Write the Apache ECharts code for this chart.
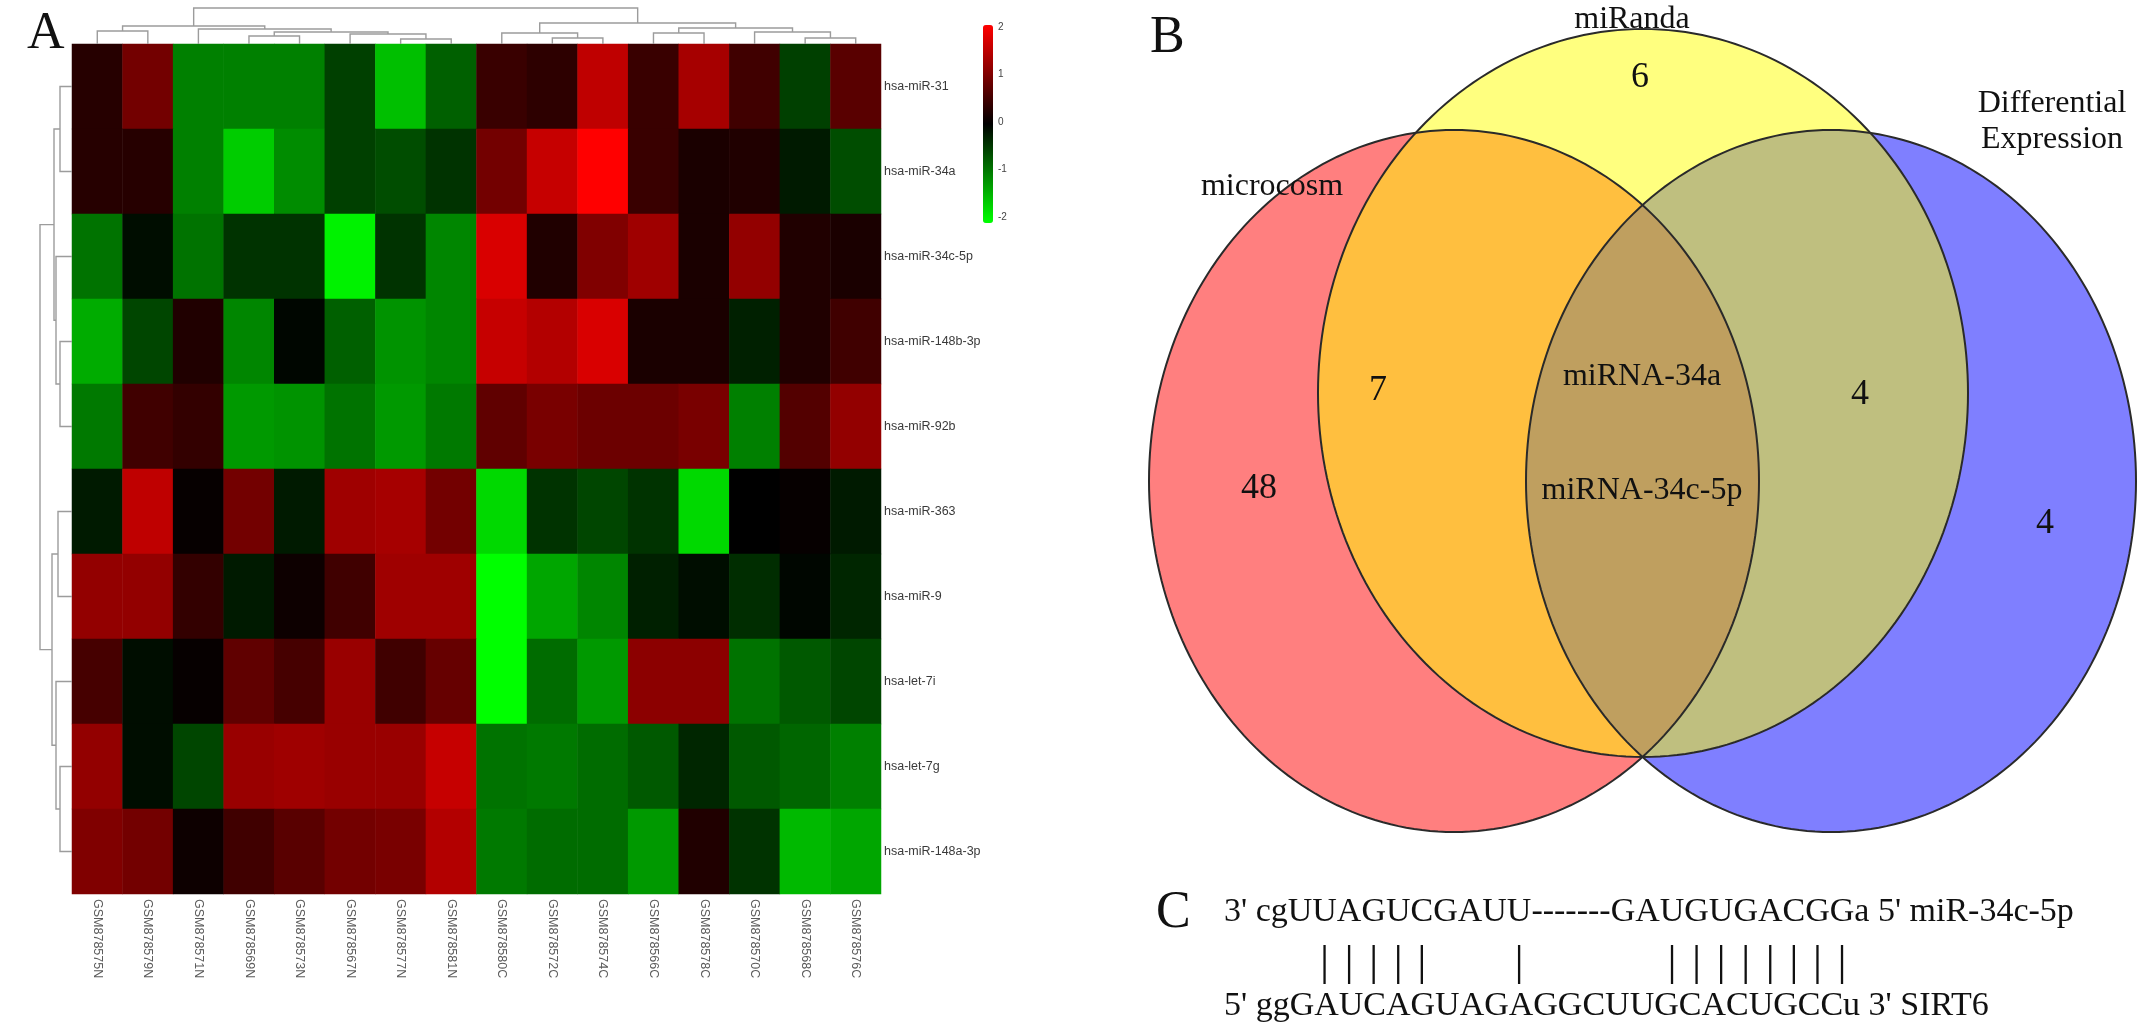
<!DOCTYPE html>
<html><head><meta charset="utf-8">
<script src="https://cdn.jsdelivr.net/npm/echarts@6/dist/echarts.min.js"></script>
<style>html,body{margin:0;padding:0;background:#fff}#c{width:2150px;height:1026px}</style>
</head><body><div id="c"></div>
<script>
// ---------- DATA ----------
const samples = ['GSM878575N','GSM878579N','GSM878571N','GSM878569N','GSM878573N','GSM878567N','GSM878577N','GSM878581N',
                 'GSM878580C','GSM878572C','GSM878574C','GSM878566C','GSM878578C','GSM878570C','GSM878568C','GSM878576C'];
const mirnas = ['hsa-miR-31','hsa-miR-34a','hsa-miR-34c-5p','hsa-miR-148b-3p','hsa-miR-92b',
                'hsa-miR-363','hsa-miR-9','hsa-let-7i','hsa-let-7g','hsa-miR-148a-3p'];
const expr = [
  [ 0.30, 0.90,-1.00,-1.00,-1.00,-0.50,-1.50,-0.75, 0.45, 0.35, 1.50, 0.45, 1.30, 0.50,-0.50, 0.70],
  [ 0.30, 0.30,-1.00,-1.60,-1.10,-0.50,-0.60,-0.40, 0.90, 1.55, 2.00, 0.45, 0.20, 0.25,-0.20,-0.60],
  [-0.90,-0.10,-0.90,-0.40,-0.40,-1.90,-0.40,-1.05, 1.70, 0.25, 1.00, 1.25, 0.20, 1.15, 0.25, 0.20],
  [-1.35,-0.55, 0.25,-1.05,-0.05,-0.75,-1.15,-1.05, 1.55, 1.40, 1.70, 0.20, 0.20,-0.25, 0.25, 0.50],
  [-0.95, 0.50, 0.40,-1.20,-1.15,-0.90,-1.20,-0.95, 0.75, 0.95, 0.85, 0.85, 0.95,-1.00, 0.65, 1.15],
  [-0.20, 1.50, 0.05, 0.90,-0.20, 1.25, 1.30, 0.90,-1.70,-0.40,-0.55,-0.40,-1.70, 0.00, 0.05,-0.20],
  [ 1.15, 1.15, 0.40,-0.20, 0.10, 0.50, 1.25, 1.25,-2.00,-1.30,-1.05,-0.25,-0.10,-0.35,-0.05,-0.30],
  [ 0.55,-0.10, 0.05, 0.75, 0.55, 1.20, 0.50, 0.80,-2.00,-0.85,-1.20, 1.10, 1.10,-0.90,-0.70,-0.55],
  [ 1.15,-0.10,-0.55, 1.20, 1.25, 1.20, 1.20, 1.55,-0.90,-0.95,-0.85,-0.70,-0.30,-0.70,-0.80,-1.00],
  [ 1.00, 0.90, 0.10, 0.50, 0.70, 0.90, 0.95, 1.40,-0.95,-0.85,-0.85,-1.20, 0.25,-0.40,-1.45,-1.30]
];
const scaleMin = -2, scaleMax = 2;
// hierarchical clustering merges: [childA, childB, height]; leaves are 0..n-1, merged nodes n, n+1, ...
const colLinkage = [
  [0,1,13],[3,4,8],[6,7,5],[5,18,10],[17,19,12],[2,20,15],[16,21,18],
  [9,10,6],[8,23,11],[11,12,11],[14,15,6],[13,26,12],[25,27,16],[24,28,21],[22,29,36]
];
const rowLinkage = [
  [0,1,12],[3,4,12],[2,11,16],[10,12,18],[5,6,14],[8,9,12],[7,15,16],[14,16,20],[13,17,32]
];
// Venn
const vennSets = ['microcosm','miRanda','Differential\nExpression'];
const vennCounts = {microcosmOnly:48, miRandaOnly:6, microcosmAndMiRanda:7, miRandaAndDE:4, deOnly:4};
const vennShared = ['miRNA-34a','miRNA-34c-5p'];
// Panel C
const mirSeq = "3' cgUUAGUCGAUU-------GAUGUGACGGa 5' miR-34c-5p";
const targetSeq = "5' ggGAUCAGUAGAGGCUUGCACUGCCu 3' SIRT6";
const pairIdx = [6,7,8,9,10,14,24,25,26,27,28,29,30,31];

// ---------- LAYOUT ----------
const HM = {left:72, top:44, width:809, height:850};
const serif = '"Liberation Serif","Times New Roman",serif';
const sans = '"Liberation Sans",Arial,sans-serif';
const VENN = {
  red:    {cx:1454, cy:481, rx:305, ry:351, fill:'rgba(255,0,0,0.5)'},
  blue:   {cx:1831, cy:481, rx:305, ry:351, fill:'rgba(0,0,255,0.5)'},
  yellow: {cx:1643, cy:393, rx:325, ry:364, fill:'rgba(255,255,0,0.5)'}
};

function dendro(linkage, n){
  const pos=[], h=[];
  for(let i=0;i<n;i++){pos.push(i);h.push(0);}
  const segs=[];
  linkage.forEach(([a,b,ht])=>{
    segs.push([pos[a],h[a],pos[b],h[b],ht]);
    pos.push((pos[a]+pos[b])/2); h.push(ht);
  });
  return segs;
}
const colSegs = dendro(colLinkage, samples.length);
const rowSegs = dendro(rowLinkage, mirnas.length);

const hmData = [];
expr.forEach((row,r)=>row.forEach((v,c)=>hmData.push([c,r,v])));

function ellipsePts(e){
  const pts=[];
  for(let i=0;i<240;i++){const t=i/240*Math.PI*2; pts.push([e.cx+e.rx*Math.cos(t), e.cy+e.ry*Math.sin(t)]);}
  return pts;
}

const ctx = document.createElement('canvas').getContext('2d');
const seqSize = 34;
ctx.font = seqSize + 'px ' + serif;
const seqX = 1224;
const graphics = [];
// Venn fills (order red, blue, yellow) then outlines
['red','blue','yellow'].forEach(k=>graphics.push({type:'polygon',shape:{points:ellipsePts(VENN[k])},style:{fill:VENN[k].fill,stroke:null},z:1}));
['red','blue','yellow'].forEach(k=>graphics.push({type:'polygon',shape:{points:ellipsePts(VENN[k])},style:{fill:null,stroke:'#2a2a2a',lineWidth:2},z:2}));
function txt(x,y,s,size,align,extra){
  return Object.assign({type:'text',x:x,y:y,z:5,style:{text:s,font:size+'px '+serif,fill:'#111',textAlign:align||'center',textVerticalAlign:'middle'}},extra||{});
}
graphics.push(txt(27,34,'A',52,'left'));
graphics.push(txt(1150,38,'B',52,'left'));
graphics.push(txt(1156,913,'C',52,'left'));
graphics.push(txt(1272,187,vennSets[0],32));
graphics.push(txt(1632,20,vennSets[1],32));
graphics.push(txt(2052,122,vennSets[2],32,'center',{style:{text:vennSets[2],font:'32px '+serif,fill:'#111',textAlign:'center',textVerticalAlign:'middle',lineHeight:36}}));
graphics.push(txt(1259,489,String(vennCounts.microcosmOnly),36));
graphics.push(txt(1640,78,String(vennCounts.miRandaOnly),36));
graphics.push(txt(1378,391,String(vennCounts.microcosmAndMiRanda),36));
graphics.push(txt(1860,395,String(vennCounts.miRandaAndDE),36));
graphics.push(txt(2045,524,String(vennCounts.deOnly),36));
graphics.push(txt(1642,377,vennShared[0],32));
graphics.push(txt(1642,491,vennShared[1],32));
// panel C
graphics.push(txt(seqX,912,mirSeq,seqSize,'left'));
graphics.push(txt(seqX,1006,targetSeq,seqSize,'left'));
pairIdx.forEach(i=>{
  const x = seqX + ctx.measureText(mirSeq.slice(0,i)).width + ctx.measureText(mirSeq[i]).width/2;
  graphics.push({type:'line',z:5,shape:{x1:x,y1:945,x2:x,y2:984},style:{stroke:'#111',lineWidth:2.3}});
});

const chart = echarts.init(document.getElementById('c'), null, {renderer:'canvas'});
const lineStyle = {stroke:'#9c9c9c', lineWidth:1.4, fill:null};
chart.setOption({
  animation:false,
  backgroundColor:'#fff',
  grid:[
    {left:HM.left, top:HM.top, width:HM.width, height:HM.height},        // heatmap
    {left:HM.left, top:0, width:HM.width, height:HM.top},                // top dendrogram
    {left:0, top:HM.top, width:HM.left, height:HM.height},               // left dendrogram
    {left:983, top:27, width:10, height:190}                              // colour-scale ticks
  ],
  xAxis:[
    {gridIndex:0, type:'category', data:samples, position:'bottom',
     axisLine:{show:false}, axisTick:{show:false},
     axisLabel:{rotate:-90, margin:5, fontSize:12.5, color:'#5a5a5a', fontFamily:sans}},
    {gridIndex:1, type:'value', min:-0.5, max:samples.length-0.5, show:false},
    {gridIndex:2, type:'value', min:0, max:HM.left, inverse:true, show:false},
    {gridIndex:3, type:'value', show:false, min:0, max:1}
  ],
  yAxis:[
    {gridIndex:0, type:'category', data:mirnas, inverse:true, position:'right',
     axisLine:{show:false}, axisTick:{show:false},
     axisLabel:{margin:3, fontSize:12.5, color:'#3a3a3a', fontFamily:sans}},
    {gridIndex:1, type:'value', min:0, max:HM.top, show:false},
    {gridIndex:2, type:'value', min:-0.5, max:mirnas.length-0.5, inverse:true, show:false},
    {gridIndex:3, type:'value', min:scaleMin, max:scaleMax, interval:1, position:'right',
     axisLine:{show:false}, axisTick:{show:false}, splitLine:{show:false},
     axisLabel:{margin:5, fontSize:10, color:'#444', fontFamily:sans}}
  ],
  visualMap:{
    type:'continuous', min:scaleMin, max:scaleMax, seriesIndex:0, calculable:false,
    left:983, top:25, itemWidth:10, itemHeight:198, padding:0, text:null, hoverLink:false,
    inRange:{color:['#00ff00','#000000','#ff0000']}
  },
  series:[
    {type:'heatmap', xAxisIndex:0, yAxisIndex:0, data:hmData, itemStyle:{borderWidth:0}, emphasis:{disabled:true}},
    {type:'custom', xAxisIndex:1, yAxisIndex:1, clip:false, data:colSegs, encode:{x:[0,2], y:[1,3,4]},
     renderItem:(p,api)=>{
       const a=api.value(0), ha=api.value(1), b=api.value(2), hb=api.value(3), h=api.value(4);
       return {type:'polyline', shape:{points:[api.coord([a,ha]),api.coord([a,h]),api.coord([b,h]),api.coord([b,hb])]}, style:lineStyle};
     }},
    {type:'custom', xAxisIndex:2, yAxisIndex:2, clip:false, data:rowSegs, encode:{y:[0,2], x:[1,3,4]},
     renderItem:(p,api)=>{
       const a=api.value(0), ha=api.value(1), b=api.value(2), hb=api.value(3), h=api.value(4);
       return {type:'polyline', shape:{points:[api.coord([ha,a]),api.coord([h,a]),api.coord([h,b]),api.coord([hb,b])]}, style:lineStyle};
     }},
    {type:'scatter', xAxisIndex:3, yAxisIndex:3, data:[], silent:true}
  ],
  graphic:graphics
});
</script></body></html>
